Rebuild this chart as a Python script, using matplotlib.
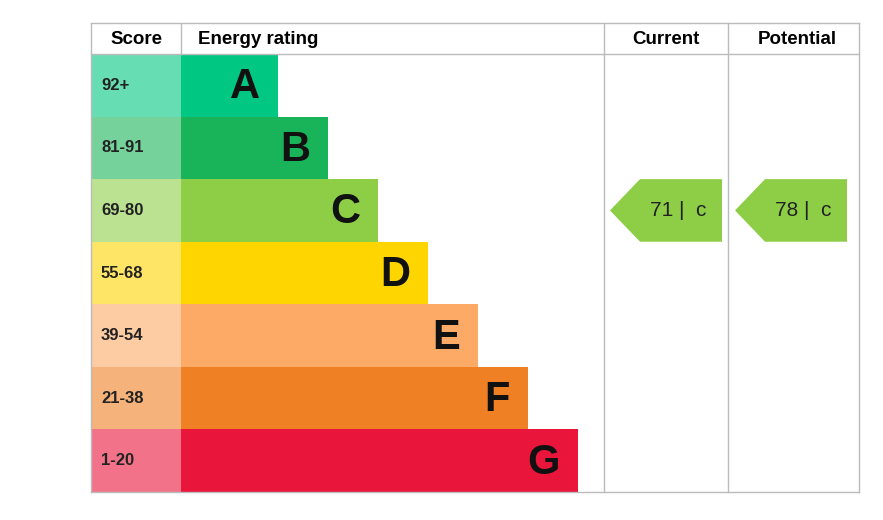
import matplotlib
matplotlib.use("Agg")
import matplotlib.pyplot as plt
from matplotlib.patches import Rectangle, Polygon

bands = ["A", "B", "C", "D", "E", "F", "G"]
scores = ["92+", "81-91", "69-80", "55-68", "39-54", "21-38", "1-20"]
colors = ["#00c781", "#19b459", "#8dce46", "#ffd500", "#fcaa65", "#ef8023", "#e9153b"]
light = ["#66ddb3", "#75d29b", "#bbe290", "#ffe566", "#fdcca3", "#f5b27b", "#f27389"]
current, potential = 71, 78
cur_band, pot_band = "C", "C"

plt.rcParams['font.family'] = ['Liberation Sans', 'DejaVu Sans']
fig = plt.figure(figsize=(8.83, 5.2), dpi=100)
ax = fig.add_axes([0, 0, 1, 1])
ax.set_xlim(0, 883); ax.set_ylim(520, 0); ax.axis('off')

L, S, C1, C2, R = 91, 181, 604, 728, 859
top, hb, bot = 23, 54, 492
rh = (bot - hb) / len(bands)
lc = "#bbbbbb"
for y in (top, hb, bot):
    ax.plot([L, R], [y, y], color=lc, lw=1)
for x in (L, C1, C2, R):
    ax.plot([x, x], [top, bot], color=lc, lw=1)
ax.plot([S, S], [top, hb], color=lc, lw=1)

hs = 13.5
ax.text(136, 40, "Score", ha='center', va='center', fontsize=hs, weight='bold')
ax.text(198, 40, "Energy rating", ha='left', va='center', fontsize=hs, weight='bold')
ax.text(666, 40, "Current", ha='center', va='center', fontsize=hs, weight='bold')
ax.text(797, 40, "Potential", ha='center', va='center', fontsize=hs, weight='bold')

for i, (b, s, c, lt) in enumerate(zip(bands, scores, colors, light)):
    y0 = hb + i * rh
    ax.add_patch(Rectangle((L, y0), S - L, rh, color=lt, lw=0))
    ax.text(101, y0 + rh / 2, s, ha='left', va='center', fontsize=12, weight='bold', color='#222222')
    end = S + 97 + 50 * i
    ax.add_patch(Rectangle((S, y0), end - S, rh, color=c, lw=0))
    ax.text(end - 18, y0 + rh / 2 + 2, b, ha='right', va='center', fontsize=30, weight='bold', color='#111111')

def arrow(x0, x1, val, band):
    i = bands.index(band)
    y0 = hb + i * rh
    yc = y0 + rh / 2
    pts = [(x0, yc), (x0 + 30, y0), (x1, y0), (x1, y0 + rh), (x0 + 30, y0 + rh)]
    ax.add_patch(Polygon(pts, closed=True, color=colors[i], lw=0))
    ax.text((x0 + x1) / 2 + 12, yc, f"{val} |  {band.lower()}", ha='center', va='center', fontsize=15, color='#222222')

arrow(610, 722, current, cur_band)
arrow(735, 847, potential, pot_band)

fig.savefig("out.png", dpi=100)
